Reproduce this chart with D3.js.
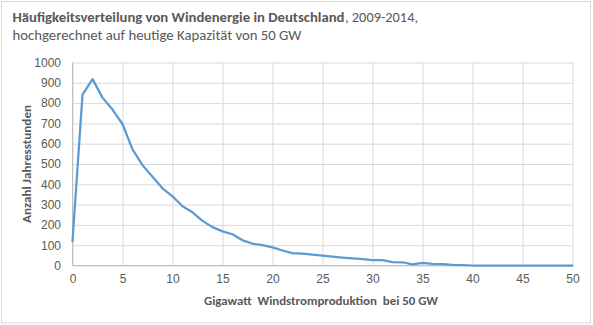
<!DOCTYPE html>
<html><head><meta charset="utf-8">
<script src="https://cdn.jsdelivr.net/npm/d3@7"></script>
<style>
html,body{margin:0;padding:0;background:#fff;}
svg{display:block;font-family:Carlito,Calibri,Lato,sans-serif;}
</style></head>
<body>
<svg id="chart" width="593" height="325"></svg>
<script>
const gigawatt = [0,1,2,3,4,5,6,7,8,9,10,11,12,13,14,15,16,17,18,19,20,21,22,23,24,25,26,27,28,29,30,31,32,33,34,35,36,37,38,39,40,41,42,43,44,45,46,47,48,49,50];
const hours = [120,842,918,827,768,697,572,494,437,380,341,292,262,220,189,168,154,124,108,100,89,74,61,59,54,49,44,39,35,31,26,26,17,16,6,13,8,7,3,2,0,0,0,0,0,0,0,0,0,0,0];
const xTicks = [0,5,10,15,20,25,30,35,40,45,50];
const yTicks = [0,100,200,300,400,500,600,700,800,900,1000];
const titleBold = "Häufigkeitsverteilung von Windenergie in Deutschland";
const titleRest = ", 2009-2014,";
const subtitle = "hochgerechnet auf heutige Kapazität von 50 GW";
const xTitle = "Gigawatt  Windstromproduktion  bei 50 GW";
const yTitle = "Anzahl Jahresstunden";

const svg = d3.select("#chart");
const txt = "#595959", grid = "#d9d9d9";

svg.append("rect").attr("x",1.5).attr("y",1.5).attr("width",589).attr("height",321.5)
  .attr("fill","#fff").attr("stroke",grid);

const x = d3.scaleLinear().domain([0,50]).range([72.5,572.5]);
const y = d3.scaleLinear().domain([0,1000]).range([265.5,62.5]);

// gridlines
const g = svg.append("g");
g.append("g").attr("transform","translate(0,265.5)")
  .call(d3.axisBottom(x).tickValues(xTicks).tickSize(-(265.5-62.5)).tickFormat(""))
  .call(a=>a.select(".domain").remove())
  .call(a=>a.selectAll("line").attr("stroke",grid));
g.append("g").attr("transform","translate(72.5,0)")
  .call(d3.axisLeft(y).tickValues(yTicks).tickSize(-500).tickFormat(""))
  .call(a=>a.select(".domain").remove())
  .call(a=>a.selectAll("line").attr("stroke",grid));

// axis lines
svg.append("line").attr("x1",x(0)).attr("x2",x(50)).attr("y1",y(0)).attr("y2",y(0)).attr("stroke","#bfbfbf");
svg.append("line").attr("x1",x(0)).attr("x2",x(0)).attr("y1",y(0)).attr("y2",y(1000)).attr("stroke","#bfbfbf");

// tick labels
const xa = svg.append("g").attr("transform","translate(0,265.5)")
  .call(d3.axisBottom(x).tickValues(xTicks).tickSize(0).tickPadding(0).tickFormat(d3.format("d")));
xa.select(".domain").remove();
xa.selectAll("text").attr("dy",null).attr("y",17.5).attr("fill",txt)
  .attr("font-size","12px").attr("font-family",null);

const ya = svg.append("g").attr("transform","translate(61,0)")
  .call(d3.axisLeft(y).tickValues(yTicks).tickSize(0).tickPadding(0).tickFormat(d3.format("d")));
ya.select(".domain").remove();
ya.selectAll("text").attr("fill",txt).attr("font-size","12px").attr("font-family",null).attr("x",0);

// line
const line = d3.line().x((d,i)=>x(gigawatt[i])).y(d=>y(d));
svg.append("path").datum(hours).attr("d",line).attr("fill","none")
  .attr("stroke","#5b9bd5").attr("stroke-width",2.25).attr("stroke-linejoin","round").attr("stroke-linecap","round");

// titles
function fit(sel, w){ const n = sel.node(); const l = n.getComputedTextLength(); if(l>0) sel.attr("textLength",w).attr("lengthAdjust","spacingAndGlyphs"); }
const t1 = svg.append("text").attr("x",12.5).attr("y",22).attr("fill",txt).attr("font-size","14px").attr("font-weight","bold").text(titleBold);
fit(t1, 332);
const t1b = svg.append("text").attr("x",345).attr("y",22).attr("fill",txt).attr("font-size","14px").text(titleRest);
fit(t1b, 73);
const t2 = svg.append("text").attr("x",12.5).attr("y",39.5).attr("fill",txt).attr("font-size","14px").text(subtitle);
fit(t2, 289);

const xt = svg.append("text").attr("x",204).attr("y",305).attr("fill",txt).attr("font-size","12.5px")
  .attr("font-weight","bold").attr("xml:space","preserve").style("white-space","pre").text(xTitle);
fit(xt, 234);
const yt = svg.append("text").attr("transform","translate(31,223) rotate(-90)").attr("fill",txt)
  .attr("font-size","12px").attr("font-weight","bold").text(yTitle);
fit(yt, 118);
</script>
</body></html>
